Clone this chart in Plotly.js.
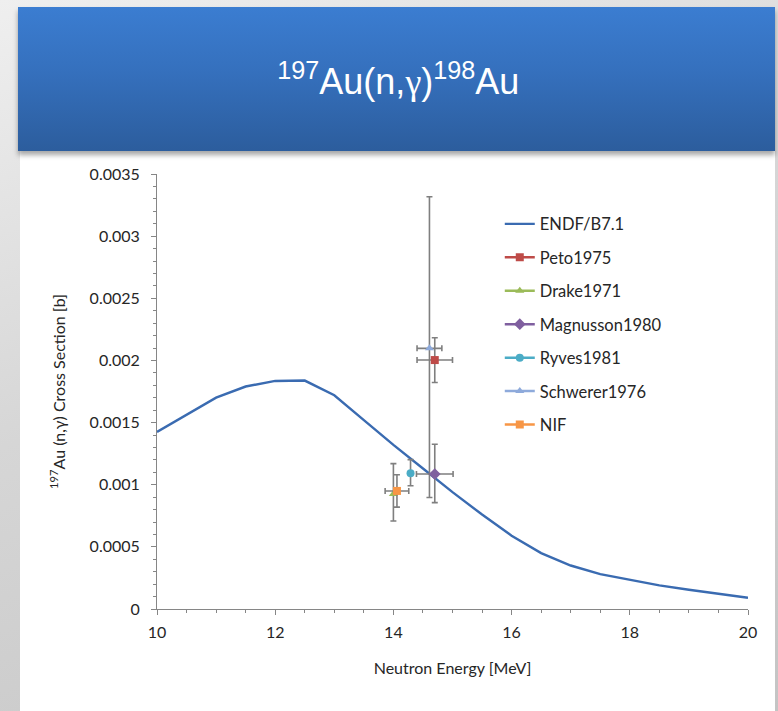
<!DOCTYPE html>
<html>
<head>
<meta charset="utf-8">
<script src="https://cdn.plot.ly/plotly-3.0.1.min.js"></script>
<style>
  html, body { margin:0; padding:0; }
  #slide { position:relative; width:778px; height:711px; overflow:hidden;
           background: linear-gradient(160deg, #efefef 0%, #d6d6d6 45%, #c4c4c4 100%); }
  #panel { position:absolute; left:20px; top:150px; width:755px; height:561px; background:#ffffff; }
  #header { position:absolute; left:18px; top:7px; width:757px; height:144px;
            background: linear-gradient(180deg, #3b7dd1 0%, #3570bd 45%, #2c5d9d 100%);
            box-shadow: 0 4px 5px rgba(0,0,0,0.35); }
  #chart { position:absolute; left:0; top:0; width:778px; height:711px; }
</style>
</head>
<body>
<div id="slide">
  <div id="panel"></div>
  <div id="header"></div>
  <div id="chart"></div>
</div>
<script>
// ENDF/B-VII.1 evaluated curve
const endfEnergy = [10, 10.5, 11, 11.5, 12, 12.5, 13, 13.5, 14, 14.5, 15, 15.5, 16, 16.5, 17, 17.5, 18, 18.5, 19, 19.5, 20];
const endfXs = [0.001425, 0.00156, 0.0017, 0.00179, 0.001835, 0.001838, 0.00172, 0.00152, 0.00132, 0.00113, 0.00094, 0.00076, 0.00059, 0.00045, 0.00035, 0.00028, 0.000235, 0.00019, 0.000155, 0.00012, 0.00009];

// Experimental points
const expNames   = ["Peto1975", "Drake1971", "Magnusson1980", "Ryves1981", "Schwerer1976", "NIF"];
const expEnergy  = [14.70, 14.00, 14.70, 14.29, 14.61, 14.06];
const expEnergyErr = [0.30, 0, 0.31, 0, 0.21, 0.20];
const expXs      = [0.002003, 0.000925, 0.001086, 0.001092, 0.002097, 0.00095];
const expXsErrPlus  = [0.00018, 0.000245, 0.00024, 0.00011, 0.00122, 0.00013];
const expXsErrMinus = [0.00018, 0.000217, 0.00023, 0.00010, 0.00120, 0.00013];
const expColors  = ["#be4b48", "#9bbb59", "#7f5f9f", "#4bacc6", "#8eaadb", "#f79646"];
const expSymbols = ["square", "triangle-up", "diamond", "circle", "triangle-up", "square"];

// Axis ticks
const yTickVals = [0, 0.0005, 0.001, 0.0015, 0.002, 0.0025, 0.003, 0.0035];
const yTickText = ["0", "0.0005", "0.001", "0.0015", "0.002", "0.0025", "0.003", "0.0035"];
const xTickVals = [10, 12, 14, 16, 18, 20];

const traces = [{
  x: endfEnergy, y: endfXs, name: "ENDF/B7.1", mode: "lines",
  line: {color: "#3a6bb1", width: 2.4}, legendgroup: "g0", legendrank: 1
}];
// draw order: Schwerer first so other markers sit on top of its long bar
const drawOrder = [4, 0, 1, 2, 3, 5];
drawOrder.forEach(i => {
  traces.push({
    x: [expEnergy[i]], y: [expXs[i]], name: expNames[i], mode: "lines+markers",
    legendgroup: "g" + (i + 1), legendrank: i + 2,
    line: {color: expColors[i], width: 2.5},
    marker: {color: expColors[i], symbol: expSymbols[i], size: expSymbols[i] === "diamond" ? 9 : 8},
    error_y: {type: "data", symmetric: false, array: [expXsErrPlus[i]], arrayminus: [expXsErrMinus[i]],
              color: "#7f7f7f", thickness: 1.6, width: 3},
    error_x: {type: "data", array: [expEnergyErr[i]], visible: expEnergyErr[i] > 0,
              color: "#7f7f7f", thickness: 1.6, width: 3}
  });
});

const fam = "Lato, 'Open Sans', sans-serif";
const tickFont = {family: fam, size: 16, color: "#262626"};
const titleFont = {family: fam, size: 16, color: "#262626"};

const layout = {
  width: 778, height: 711,
  paper_bgcolor: "rgba(0,0,0,0)", plot_bgcolor: "rgba(0,0,0,0)",
  margin: {l: 157, r: 30, t: 174, b: 102},
  title: {
    text: "<sup>197</sup>Au(n,<span style=\"font-family:Liberation Serif\">γ</span>)<sup>198</sup>Au",
    font: {family: "'Liberation Sans Narrow', 'Arial Narrow', 'Liberation Sans', sans-serif", size: 36, color: "#ffffff"},
    x: 0.512, xanchor: "center", xref: "container",
    y: 0.885, yanchor: "middle", yref: "container"
  },
  xaxis: {
    range: [10, 20], tickvals: xTickVals, ticks: "outside", ticklen: 5, tickcolor: "#868686",
    showline: true, linecolor: "#868686", linewidth: 1, showgrid: false, zeroline: false,
    tickfont: tickFont, ticklabelstandoff: 4,
    minor: {dtick: 0.5, ticks: "outside", ticklen: 3, tickcolor: "#868686", showgrid: false},
    title: {text: "Neutron Energy [MeV]", font: titleFont, standoff: 22}
  },
  yaxis: {
    range: [0, 0.0035], tickvals: yTickVals, ticktext: yTickText, ticks: "outside", ticklen: 5, tickcolor: "#868686",
    showline: true, linecolor: "#868686", linewidth: 1, showgrid: false, zeroline: false,
    tickfont: tickFont, ticklabelstandoff: 8,
    minor: {dtick: 0.0001, ticks: "outside", ticklen: 3, tickcolor: "#868686", showgrid: false},
    title: {text: "<sup>197</sup>Au (n,γ) Cross Section [b]", font: titleFont, standoff: 20}
  },
  legend: {
    x: 0.58, xanchor: "left", y: 0.925, yanchor: "top",
    font: {family: fam, size: 16.5, color: "#262626"},
    bgcolor: "rgba(0,0,0,0)", traceorder: "grouped", tracegroupgap: 9, itemwidth: 30
  },
  showlegend: true
};

Plotly.newPlot("chart", traces, layout, {staticPlot: true, displayModeBar: false});
</script>
</body>
</html>
